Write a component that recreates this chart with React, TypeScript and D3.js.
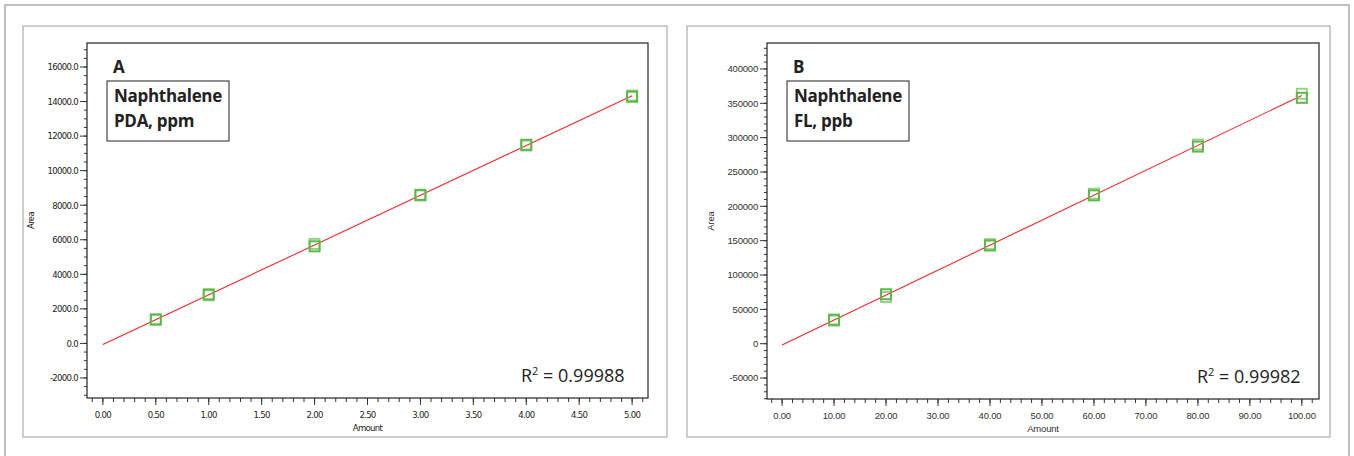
import React from "react"
import * as d3 from "d3"

// panel A - PDA, ppm
const amountsA = [0.5, 1, 2, 3, 4, 5]
const areaA1 = [1390, 2840, 5620, 8600, 11500, 14280]
const areaA2 = [1370, 2780, 5760, 8560, 11450, 14350]
const xTicksA = [0, 0.5, 1, 1.5, 2, 2.5, 3, 3.5, 4, 4.5, 5]
const yTicksA = [-2000, 0, 2000, 4000, 6000, 8000, 10000, 12000, 14000, 16000]

// panel B - FL, ppb
const amountsB = [10, 20, 40, 60, 80, 100]
const areaB1 = [35000, 72000, 143000, 216000, 287000, 358000]
const areaB2 = [33500, 68000, 145000, 218500, 290000, 364000]
const xTicksB = [0, 10, 20, 30, 40, 50, 60, 70, 80, 90, 100]
const yTicksB = [-50000, 0, 50000, 100000, 150000, 200000, 250000, 300000, 350000, 400000]

const green = "#5cb848"
const greenLight = "#8fd07e"

function fit(xs: number[], ys: number[]) {
  const mx = d3.mean(xs)!
  const my = d3.mean(ys)!
  let num = 0, den = 0
  xs.forEach((x, i) => { num += (x - mx) * (ys[i] - my); den += (x - mx) * (x - mx) })
  const b = num / den
  return { slope: b, intercept: my - b * mx }
}

// hyphen instead of unicode minus, like the original software
const hy = (f: (v: number) => string) => (v: number) => f(v).replace("\u2212", "-")

type PanelProps = {
  box: number[]
  plot: number[]
  xDomain: number[]
  yDomain: number[]
  xTicks: number[]
  yTicks: number[]
  xMinor: number
  yMinor: number
  xFmt: (v: number) => string
  yFmt: (v: number) => string
  amounts: number[]
  rep1: number[]
  rep2: number[]
  letter: string
  title: string[]
  r2: string
  labelBox: number[]
  r2x: number
  tickFont: string
  tickSpacing: number
  tickColor: string
}

function Panel(p: PanelProps) {
  const [left, top, right, bottom] = p.plot
  const x = d3.scaleLinear().domain(p.xDomain).range([left, right])
  const y = d3.scaleLinear().domain(p.yDomain).range([bottom, top])
  const allX = p.amounts.concat(p.amounts)
  const allY = p.rep1.concat(p.rep2)
  const { slope, intercept } = fit(allX, allY)
  const xMax = d3.max(p.amounts)!
  const line = d3.line<number>().x(d => x(d)).y(d => y(intercept + slope * d))
  const xMinorTicks = d3.range(
    Math.ceil(p.xDomain[0] / p.xMinor) * p.xMinor,
    p.xDomain[1] + 1e-9,
    p.xMinor
  )
  const yMinorTicks = d3.range(
    Math.ceil(p.yDomain[0] / p.yMinor) * p.yMinor,
    p.yDomain[1] + 1e-9,
    p.yMinor
  )
  const [bx, by, bw, bh] = p.labelBox
  const txtStyle = {
    fontFamily: p.tickFont,
    fontSize: 9.5,
    letterSpacing: p.tickSpacing,
    fill: p.tickColor,
  }
  const sq = 10
  return (
    <g>
      <rect x={p.box[0]} y={p.box[1]} width={p.box[2] - p.box[0]} height={p.box[3] - p.box[1]}
        fill="white" stroke="#bdbdbd" strokeWidth={1.5} />
      {/* plot frame */}
      <rect x={left} y={top} width={right - left} height={bottom - top} fill="white" stroke="#222" strokeWidth={1.2} />
      {/* y ticks */}
      {yMinorTicks.map((v, i) => (
        <line key={"ym" + i} x1={left - 3} x2={left} y1={y(v)} y2={y(v)} stroke="#333" strokeWidth={1} />
      ))}
      {p.yTicks.map((v, i) => (
        <g key={"y" + i}>
          <line x1={left - 7} x2={left} y1={y(v)} y2={y(v)} stroke="#333" strokeWidth={1} />
          <text x={left - 9} y={y(v)} dy="0.35em" textAnchor="end" style={txtStyle}>{p.yFmt(v)}</text>
        </g>
      ))}
      {/* x ticks */}
      {xMinorTicks.map((v, i) => (
        <line key={"xm" + i} x1={x(v)} x2={x(v)} y1={bottom} y2={bottom + 4} stroke="#333" strokeWidth={1} />
      ))}
      {p.xTicks.map((v, i) => (
        <g key={"x" + i}>
          <line x1={x(v)} x2={x(v)} y1={bottom} y2={bottom + 7} stroke="#333" strokeWidth={1} />
          <text x={x(v)} y={bottom + 20} textAnchor="middle" style={txtStyle}>{p.xFmt(v)}</text>
        </g>
      ))}
      <text x={(left + right) / 2} y={bottom + 33} textAnchor="middle" style={txtStyle}>Amount</text>
      <text transform={`translate(${left - 53},${(top + bottom) / 2}) rotate(-90)`} textAnchor="middle"
        style={txtStyle}>Area</text>
      {/* fit line */}
      <path d={line([0, xMax]) || ""} fill="none" stroke="#ee2a2a" strokeWidth={1.1} />
      {/* replicate squares */}
      {p.amounts.map((a, i) => (
        <rect key={"r2" + i} x={x(a) - sq / 2} y={y(p.rep2[i]) - sq / 2} width={sq} height={sq}
          fill="none" stroke={greenLight} strokeWidth={1.8} />
      ))}
      {p.amounts.map((a, i) => (
        <rect key={"r1" + i} x={x(a) - sq / 2} y={y(p.rep1[i]) - sq / 2} width={sq} height={sq}
          fill="none" stroke={green} strokeWidth={2} />
      ))}
      {/* labels */}
      <text x={bx + 6} y={by - 8} style={{ fontFamily: "Open Sans", fontWeight: 700, fontSize: 17, fill: "#222" }}>{p.letter}</text>
      <rect x={bx} y={by} width={bw} height={bh} fill="white" stroke="#222" strokeWidth={1} />
      {p.title.map((t, i) => (
        <text key={"t" + i} x={bx + 7} y={by + 21 + i * 25}
          style={{ fontFamily: "Open Sans", fontWeight: 700, fontSize: 17, fill: "#222", letterSpacing: -0.3 }}>{t}</text>
      ))}
      <text x={p.r2x} y={bottom - 16} style={{ fontFamily: "Open Sans", fontSize: 18, fill: "#222" }}>
        R<tspan fontSize={11} dy={-7}>2</tspan><tspan dy={7}> = {p.r2}</tspan>
      </text>
    </g>
  )
}

export default function App() {
  return (
    <svg width={1354} height={456} style={{ position: "absolute", left: 0, top: 0, background: "white" }}>
      <rect x={5} y={5} width={1344} height={470} fill="white" stroke="#aaa" strokeWidth={1.5} />
      <Panel
        box={[23, 26, 667, 437]}
        plot={[87, 43, 648, 398]}
        xDomain={[-0.15, 5.15]}
        yDomain={[-3160, 17390]}
        xTicks={xTicksA}
        yTicks={yTicksA}
        xMinor={0.1}
        yMinor={500}
        xFmt={d3.format(".2f")}
        yFmt={hy(d3.format(".1f"))}
        amounts={amountsA}
        rep1={areaA1}
        rep2={areaA2}
        letter="A"
        title={["Naphthalene", "PDA, ppm"]}
        r2="0.99988"
        labelBox={[107, 81, 122, 60]}
        r2x={521}
        tickFont="'DejaVu Sans Condensed', 'Liberation Sans Narrow', sans-serif"
        tickSpacing={-0.7}
        tickColor="#222"
      />
      <Panel
        box={[687, 26, 1330, 437]}
        plot={[767, 43, 1319, 399]}
        xDomain={[-2.9, 103.3]}
        yDomain={[-80500, 437800]}
        xTicks={xTicksB}
        yTicks={yTicksB}
        xMinor={2}
        yMinor={10000}
        xFmt={d3.format(".2f")}
        yFmt={hy(d3.format("d"))}
        amounts={amountsB}
        rep1={areaB1}
        rep2={areaB2}
        letter="B"
        title={["Naphthalene", "FL, ppb"]}
        r2="0.99982"
        labelBox={[787, 81, 122, 60]}
        r2x={1197}
        tickFont="'Liberation Sans', Arial, sans-serif"
        tickSpacing={-0.2}
        tickColor="#333"
      />
    </svg>
  )
}
